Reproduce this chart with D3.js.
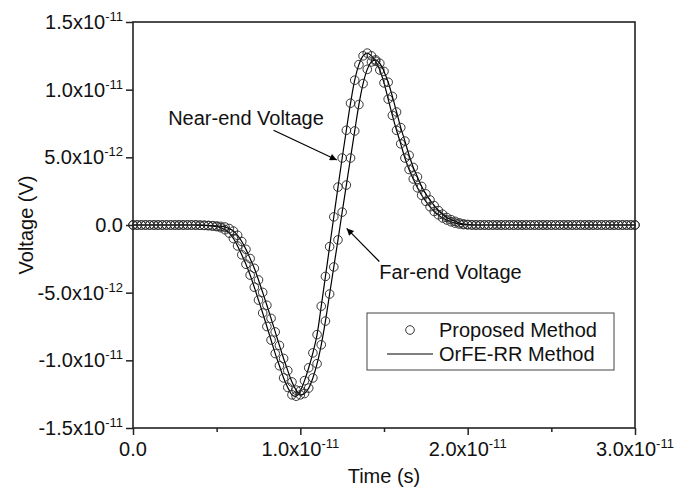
<!DOCTYPE html>
<html>
<head>
<meta charset="utf-8">
<script src="https://cdn.jsdelivr.net/npm/d3@7"></script>
<style>
    body { margin: 0; background: #fff; }
    svg { display: block; font-family: Arial, 'Liberation Sans', sans-serif; }
    .tickLabel, .axisTitle, .note, .legendText { font-size: 20px; fill: #111; }
    .sup { font-size: 13px; }
</style>
</head>
<body>
<svg id="chart"></svg>
<script>
// time in units of 1e-11 s, voltage in units of 1e-12 V
const times = [0, 0.025, 0.05, 0.075, 0.1, 0.125, 0.15, 0.175, 0.2, 0.225, 0.25, 0.275, 0.3, 0.325, 0.35, 0.375,
    0.4, 0.425, 0.45, 0.475, 0.5, 0.525, 0.55, 0.575, 0.6, 0.625, 0.65, 0.675, 0.7, 0.725, 0.75, 0.775,
    0.8, 0.825, 0.85, 0.875, 0.9, 0.925, 0.95, 0.975, 1.0, 1.025, 1.05, 1.075, 1.1, 1.125, 1.15, 1.175,
    1.2, 1.225, 1.25, 1.275, 1.3, 1.325, 1.35, 1.375, 1.4, 1.425, 1.45, 1.475, 1.5, 1.525, 1.55, 1.575,
    1.6, 1.625, 1.65, 1.675, 1.7, 1.725, 1.75, 1.775, 1.8, 1.825, 1.85, 1.875, 1.9, 1.925, 1.95, 1.975,
    2.0, 2.025, 2.05, 2.075, 2.1, 2.125, 2.15, 2.175, 2.2, 2.225, 2.25, 2.275, 2.3, 2.325, 2.35, 2.375,
    2.4, 2.425, 2.45, 2.475, 2.5, 2.525, 2.55, 2.575, 2.6, 2.625, 2.65, 2.675, 2.7, 2.725, 2.75, 2.775,
    2.8, 2.825, 2.85, 2.875, 2.9, 2.925, 2.95, 2.975, 3.0];

const nearEnd = [0, 0, 0, 0, 0, 0, 0, 0, 0, 0, 0, 0, 0, 0, 0, 0,
    -0.02, -0.03, -0.05, -0.08, -0.12, -0.2, -0.35, -0.6, -1.0, -1.55,
    -2.2, -2.9, -3.7, -4.6, -5.55, -6.5, -7.5, -8.5, -9.5, -10.4,
    -11.3, -12.0, -12.55, -12.65, -12.25, -11.5, -10.55, -9.45, -8.1, -6.0,
    -3.8, -1.6, 0.6, 2.8, 4.95, 7.0, 9.0, 10.7, 11.85, 12.5,
    12.7, 12.5, 12.1, 11.45, 10.5, 9.3, 8.1, 7.0, 6.0, 4.95,
    4.1, 3.4, 2.75, 2.2, 1.75, 1.35, 1.0, 0.75, 0.52, 0.37,
    0.24, 0.14, 0.07, 0.03, 0.01,
    0, 0, 0, 0, 0, 0, 0, 0, 0, 0, 0, 0, 0, 0, 0, 0, 0, 0, 0, 0,
    0, 0, 0, 0, 0, 0, 0, 0, 0, 0, 0, 0, 0, 0, 0, 0, 0, 0, 0, 0];

const farEnd = [0, 0, 0, 0, 0, 0, 0, 0, 0, 0, 0, 0, 0, 0, 0, 0,
    -0.01, -0.02, -0.03, -0.05, -0.07, -0.1, -0.15, -0.26, -0.45, -0.76,
    -1.22, -1.8, -2.48, -3.2, -4.06, -4.98, -5.93, -6.9, -7.9, -8.9,
    -9.86, -10.76, -11.6, -12.2, -12.55, -12.45, -12.05, -11.3, -10.25, -8.85,
    -7.1, -5.1, -3.1, -1.1, 0.95, 2.95, 4.95, 6.95, 8.9, 10.45,
    11.5, 12.05, 12.2, 11.95, 11.35, 10.55, 9.5, 8.35, 7.2, 6.2,
    5.15, 4.25, 3.55, 2.85, 2.3, 1.85, 1.43, 1.07, 0.8, 0.56,
    0.4, 0.27, 0.16, 0.08, 0.04, 0.015,
    0, 0, 0, 0, 0, 0, 0, 0, 0, 0, 0, 0, 0, 0, 0, 0, 0, 0, 0, 0,
    0, 0, 0, 0, 0, 0, 0, 0, 0, 0, 0, 0, 0, 0, 0, 0, 0, 0, 0];

const xTicks = [0, 1, 2, 3];
const xMinorTicks = [0.5, 1.5, 2.5];
const xTickMantissa = ['0.0', '1.0x10', '2.0x10', '3.0x10'];
const xTickExp = ['', '-11', '-11', '-11'];

const yTicks = [-15, -10, -5, 0, 5, 10, 15];
const yTickMantissa = ['-1.5x10', '-1.0x10', '-5.0x10', '0.0', '5.0x10', '1.0x10', '1.5x10'];
const yTickExp = ['-11', '-11', '-12', '', '-12', '-11', '-11'];

const legendLabels = ['Proposed Method', 'OrFE-RR Method'];

// annotation anchors in data units
const notes = [
    {text: 'Near-end Voltage', tx: 0.21, tv: 7.4, fromT: 0.84, fromV: 7.0, toT: 1.218, toV: 4.8},
    {text: 'Far-end Voltage', tx: 1.472, tv: -4.0, fromT: 1.472, fromV: -2.7, toT: 1.277, toV: -0.25}
];

class PulseChart {
    constructor(svgID) {
        this.svg = d3.select('#' + svgID).attr('width', 688).attr('height', 490);
        this.left = 133;
        this.right = 635;
        this.top = 22;
        this.bottom = 428;
        this.x = d3.scaleLinear().domain([0, 3]).range([this.left, this.right]);
        this.y = d3.scaleLinear().domain([-15, 15]).range([this.bottom, this.top]);

        this.defineArrow();
        this.drawSeries(nearEnd);
        this.drawSeries(farEnd);
        this.drawAxes();
        this.drawNotes();
        this.drawLegend();
    }

    defineArrow() {
        this.svg.append('defs').append('marker')
            .attr('id', 'arrowHead')
            .attr('viewBox', '0 0 10 10')
            .attr('refX', 10).attr('refY', 5)
            .attr('markerWidth', 11).attr('markerHeight', 7)
            .attr('markerUnits', 'userSpaceOnUse')
            .attr('orient', 'auto')
            .append('path')
            .attr('d', 'M0,0 L10,5 L0,10 z')
            .attr('fill', '#000');
    }

    drawSeries(values) {
        let pts = times.map((t, i) => [t, values[i]]);
        let line = d3.line()
            .x(d => this.x(d[0]))
            .y(d => this.y(d[1]))
            .curve(d3.curveCatmullRom);
        this.svg.append('path')
            .datum(pts)
            .attr('d', line)
            .attr('fill', 'none')
            .attr('stroke', '#000')
            .attr('stroke-width', 1.2);
        this.svg.append('g')
            .selectAll('circle')
            .data(pts)
            .join('circle')
            .attr('cx', d => this.x(d[0]))
            .attr('cy', d => this.y(d[1]))
            .attr('r', 4.3)
            .attr('fill', 'none')
            .attr('stroke', '#2a2a2a')
            .attr('stroke-width', 0.95);
    }

    drawAxes() {
        let frame = this.svg.append('g');
        frame.append('rect')
            .attr('x', this.left).attr('y', this.top)
            .attr('width', this.right - this.left)
            .attr('height', this.bottom - this.top)
            .attr('fill', 'none')
            .attr('stroke', '#222')
            .attr('stroke-width', 1.6);

        // x axis ticks point outward
        let xAxis = d3.axisBottom(this.x).tickValues(xTicks).tickSize(7).tickFormat('');
        let gx = this.svg.append('g').attr('transform', `translate(0,${this.bottom})`).call(xAxis);
        gx.select('.domain').remove();
        gx.selectAll('line').attr('stroke', '#222').attr('stroke-width', 1.5);
        let xMinor = d3.axisBottom(this.x).tickValues(xMinorTicks).tickSize(4).tickFormat('');
        let gxm = this.svg.append('g').attr('transform', `translate(0,${this.bottom})`).call(xMinor);
        gxm.select('.domain').remove();
        gxm.selectAll('line').attr('stroke', '#222').attr('stroke-width', 1.5);

        let yAxis = d3.axisLeft(this.y).tickValues(yTicks).tickSize(7).tickFormat('');
        let gy = this.svg.append('g').attr('transform', `translate(${this.left},0)`).call(yAxis);
        gy.select('.domain').remove();
        gy.selectAll('line').attr('stroke', '#222').attr('stroke-width', 1.5);

        // tick labels with superscript exponents
        let xl = this.svg.append('g').selectAll('text')
            .data(xTicks)
            .join('text')
            .attr('class', 'tickLabel')
            .attr('x', d => this.x(d))
            .attr('y', this.bottom + 28)
            .attr('text-anchor', 'middle');
        xl.append('tspan').text((d, i) => xTickMantissa[i]);
        xl.append('tspan').attr('class', 'sup').attr('dy', -8).text((d, i) => xTickExp[i]);

        let yl = this.svg.append('g').selectAll('text')
            .data(yTicks)
            .join('text')
            .attr('class', 'tickLabel')
            .attr('x', this.left - 10)
            .attr('y', d => this.y(d) + 7)
            .attr('text-anchor', 'end');
        yl.append('tspan').text((d, i) => yTickMantissa[i]);
        yl.append('tspan').attr('class', 'sup').attr('dy', -8).text((d, i) => yTickExp[i]);

        this.svg.append('text')
            .attr('class', 'axisTitle')
            .attr('x', (this.left + this.right) / 2)
            .attr('y', 483)
            .attr('text-anchor', 'middle')
            .text('Time (s)');
        this.svg.append('text')
            .attr('class', 'axisTitle')
            .attr('text-anchor', 'middle')
            .attr('transform', `translate(33,${(this.top + this.bottom) / 2}) rotate(-90)`)
            .text('Voltage (V)');
    }

    drawNotes() {
        let g = this.svg.append('g');
        notes.forEach(n => {
            g.append('text')
                .attr('class', 'note')
                .attr('x', this.x(n.tx))
                .attr('y', this.y(n.tv))
                .text(n.text);
            g.append('line')
                .attr('x1', this.x(n.fromT)).attr('y1', this.y(n.fromV))
                .attr('x2', this.x(n.toT)).attr('y2', this.y(n.toV))
                .attr('stroke', '#000')
                .attr('stroke-width', 1.2)
                .attr('marker-end', 'url(#arrowHead)');
        });
    }

    drawLegend() {
        let g = this.svg.append('g').attr('transform', 'translate(367,313)');
        g.append('rect')
            .attr('width', 247).attr('height', 57)
            .attr('fill', '#fff')
            .attr('stroke', '#444')
            .attr('stroke-width', 1);
        g.append('circle')
            .attr('cx', 43).attr('cy', 17).attr('r', 4.3)
            .attr('fill', 'none').attr('stroke', '#2a2a2a').attr('stroke-width', 0.95);
        g.append('line')
            .attr('x1', 20).attr('x2', 66).attr('y1', 41).attr('y2', 41)
            .attr('stroke', '#000').attr('stroke-width', 1.2);
        g.selectAll('text.legendText')
            .data(legendLabels)
            .join('text')
            .attr('class', 'legendText')
            .attr('x', 72)
            .attr('y', (d, i) => 24 + i * 24)
            .text(d => d);
    }
}

new PulseChart('chart');
</script>
</body>
</html>
